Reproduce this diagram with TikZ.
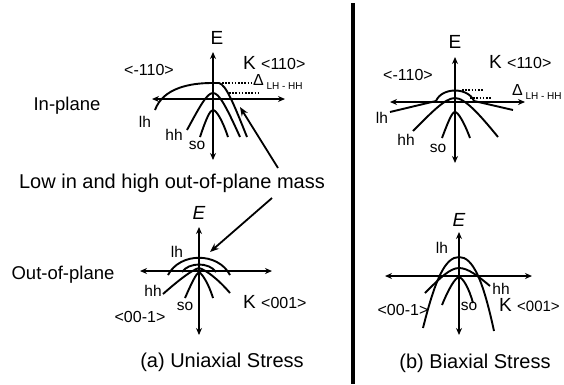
\documentclass[tikz,border=0pt]{standalone}
\usepackage{fontspec}
\setmainfont{Liberation Sans}
\usetikzlibrary{arrows.meta}
\newcommand{\fs}[1]{\fontsize{#1}{#1}\selectfont}
\tikzset{
  ax/.style={line width=1.8pt, {Stealth[length=7pt,width=6pt]}-{Stealth[length=7pt,width=6pt]}},
  band/.style={line width=1.9pt},
  dotln/.style={line width=1.5pt, dash pattern=on 1.6pt off 1.6pt},
  big/.style={inner sep=0pt, font=\fs{20}},
  side/.style={inner sep=0pt, font=\fs{18.5}},
  axl/.style={inner sep=0pt, font=\fs{19}},
  dirl/.style={inner sep=0pt, font=\fs{16}},
  bl/.style={inner sep=0pt, font=\fs{15.5}},
  ptr/.style={line width=1.8pt, -{Stealth[length=9pt,width=7pt]}},
}
\begin{document}
\begin{tikzpicture}[x=1pt,y=-1pt]
\useasboundingbox (0,0) rectangle (564,384);
\fill[white] (0,0) rectangle (564,384);

% divider
\coordinate (dt) at (353,3);
\coordinate (db) at (353,384);
\draw[line width=3.2pt] (dt) -- (db);

% ================= (a) in-plane =================
\coordinate (a1t) at (213,52); \coordinate (a1b) at (213,160);
\coordinate (a1l) at (152,99); \coordinate (a1r) at (285,99);
\draw[ax] (a1t) -- (a1b);
\draw[ax] (a1l) -- (a1r);
% lh
\draw[band] (155,110) .. controls (163,88) and (190,83) .. (212,83) -- (219,83)
  .. controls (226,85) and (233,102) .. (247,137);
% hh
\draw[band] (187,130) .. controls (200,106) and (207,93) .. (213,93)
  .. controls (219,93) and (226,106) .. (240,137);
% so
\draw[band] (200,137) .. controls (206,119) and (210,110) .. (213,110)
  .. controls (216,110) and (222,119) .. (228,137);
\draw[dotln] (222,83) -- (252,83);
\draw[dotln] (229,93) -- (258,93);
\node[axl] (a1E) at (217,38) {E};
\node[axl, anchor=west] (a1K) at (243,63) {K \fs{16}<110>};
\node[dirl] (a1m) at (149,70) {<-110>};
\node[inner sep=0pt, anchor=west] (a1D) at (253,82) {\fs{16}Δ\,\raisebox{-3.5pt}{\fs{10}LH - HH}};
\node[bl] (a1lh) at (145,122) {lh};
\node[bl] (a1hh) at (174,135) {hh};
\node[bl] (a1so) at (197,145) {so};
\node[side] (inpl) at (67,106) {In-plane};

% caption text with pointers
\node[big] (mass) at (172,183) {Low in and high out-of-plane mass};
\coordinate (p1s) at (278,168); \coordinate (p1e) at (240,107);
\coordinate (p2s) at (272,198); \coordinate (p2e) at (210,252);
\draw[ptr] (p1s) -- (p1e);
\draw[ptr] (p2s) -- (p2e);

% ================= (a) out-of-plane =================
\coordinate (a2t) at (199,227); \coordinate (a2b) at (199,335);
\coordinate (a2l) at (140,271); \coordinate (a2r) at (272,271);
\draw[ax] (a2t) -- (a2b);
\draw[ax] (a2l) -- (a2r);
\draw[band] (168,275) .. controls (180,252) and (218,252) .. (230,275);
\draw[band] (182,272) .. controls (189,262) and (209,262) .. (216,272);
\draw[band] (163,294) .. controls (180,279) and (192,270) .. (199,268)
  .. controls (206,270) and (218,279) .. (230,293);
\draw[band] (185,298) .. controls (192,282) and (196,274) .. (199,272)
  .. controls (202,274) and (208,282) .. (213,298);
\node[axl, font=\fs{19}\itshape] (a2E) at (199,213) {E};
\node[bl] (a2lh) at (177,252) {lh};
\node[bl] (a2hh) at (153,291) {hh};
\node[bl] (a2so) at (185,306) {so};
\node[dirl] (a2m) at (140,317) {<00-1>};
\node[axl, anchor=west] (a2K) at (243,302) {K \fs{16}<001>};
\node[side] (outpl) at (63,275) {Out-of-plane};
\node[big] (capa) at (222,362) {(a) Uniaxial Stress};

% ================= (b) in-plane =================
\coordinate (b1t) at (455,57); \coordinate (b1b) at (455,163);
\coordinate (b1l) at (390,102); \coordinate (b1r) at (525,102);
\draw[ax] (b1t) -- (b1b);
\draw[ax] (b1l) -- (b1r);
\draw[band] (390,112) -- (436,101) .. controls (442,87) and (468,87) .. (474,101) -- (513,110);
\draw[band] (413,131) .. controls (431,113) and (445,98) .. (455,98)
  .. controls (465,98) and (480,115) .. (498,137);
\draw[band] (442,138) .. controls (448,122) and (452,112) .. (455,112)
  .. controls (458,112) and (464,122) .. (470,138);
\draw[dotln] (462,90) -- (483,90);
\draw[dotln] (470,98) -- (492,98);
\node[axl] (b1E) at (455,42) {E};
\node[axl, anchor=west] (b1K) at (489,62) {K \fs{16}<110>};
\node[dirl] (b1m) at (408,75) {<-110>};
\node[inner sep=0pt, anchor=west] (b1D) at (512,92) {\fs{16}Δ\,\raisebox{-3.5pt}{\fs{10}LH - HH}};
\node[bl] (b1lh) at (382,118) {lh};
\node[bl] (b1hh) at (406,140) {hh};
\node[bl] (b1so) at (438,148) {so};

% ================= (b) out-of-plane =================
\coordinate (b2t) at (459,232); \coordinate (b2b) at (459,335);
\coordinate (b2l) at (385,276); \coordinate (b2r) at (532,276);
\draw[ax] (b2t) -- (b2b);
\draw[ax] (b2l) -- (b2r);
\draw[band] (423,328) .. controls (435,280) and (445,257) .. (459,257)
  .. controls (473,257) and (483,280) .. (494,331);
\draw[band] (425,293) .. controls (440,278) and (450,268) .. (459,268)
  .. controls (468,268) and (478,276) .. (490,286);
\draw[band] (442,305) .. controls (449,288) and (455,278) .. (459,277)
  .. controls (463,278) and (469,288) .. (473,303);
\node[axl, font=\fs{19}\itshape] (b2E) at (459,220) {E};
\node[bl] (b2lh) at (442,248) {lh};
\node[bl] (b2hh) at (501,289) {hh};
\node[bl] (b2so) at (469,306) {so};
\node[dirl] (b2m) at (403,310) {<00-1>};
\node[axl, anchor=west] (b2K) at (499,305) {K \fs{15}<001>};
\node[big] (capb) at (475,363) {(b) Biaxial Stress};
\end{tikzpicture}
\end{document}
